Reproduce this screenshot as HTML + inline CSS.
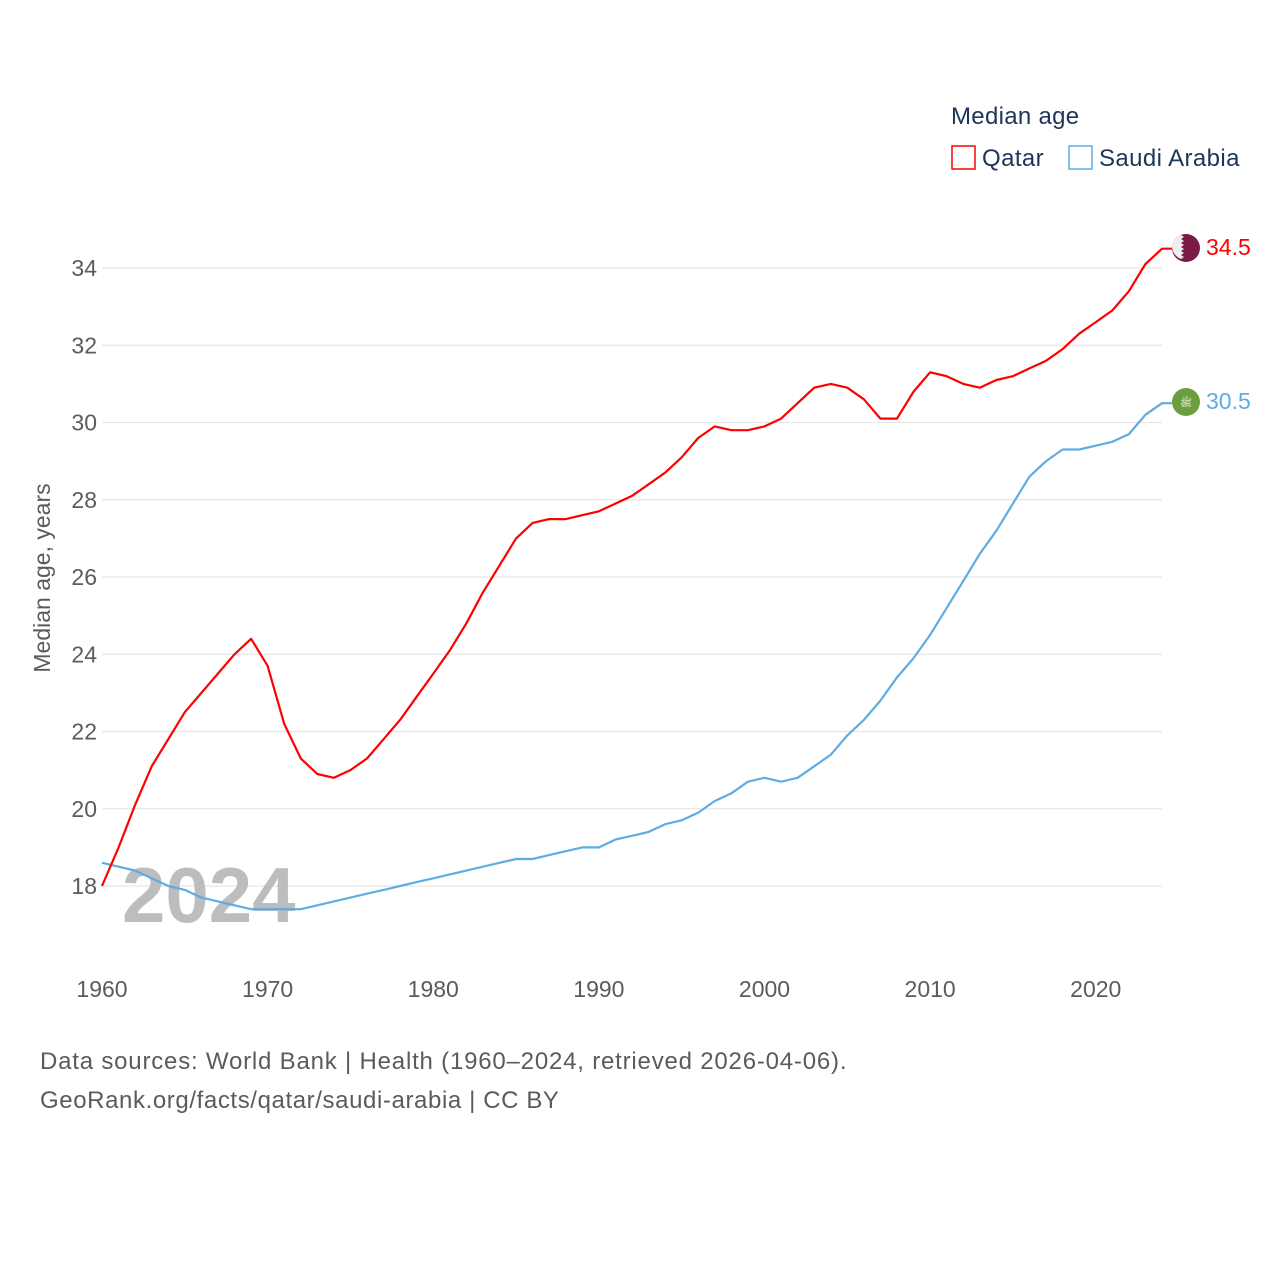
<!DOCTYPE html>
<html><head><meta charset="utf-8"><style>
body{margin:0;background:#fff;}
svg text{font-family:"Liberation Sans",sans-serif;}
</style></head><body>
<svg id="chart" width="1280" height="1280" xmlns="http://www.w3.org/2000/svg">
<text x="951" y="124" font-size="24" fill="#1d3557" letter-spacing="0.3">Median age</text>
<g><rect x="952" y="146" width="23" height="23" fill="none" stroke="#ff0000" stroke-width="1.5"/><text x="982" y="166" font-size="24" fill="#1d3557" letter-spacing="0.4">Qatar</text></g>
<g><rect x="1069" y="146" width="23" height="23" fill="none" stroke="#5dade2" stroke-width="1.5"/><text x="1099" y="166" font-size="24" fill="#1d3557" letter-spacing="0.4">Saudi Arabia</text></g>
<g id="grid"></g>
<g id="yticks"></g>
<g id="xticks"></g>
<text x="0" y="0" font-size="23" fill="#5b5b5b" text-anchor="middle" transform="translate(50,578) rotate(-90)">Median age, years</text>
<text x="122" y="922" font-size="78" font-weight="bold" fill="#bdbdbd">2024</text>
<g id="series"></g>
<g><circle cx="1186" cy="248" r="14" fill="#7a1a45"/><path d="M1172,248 a14,14 0 0 1 9,-13 l3,2 -3,2 3,2 -3,2 3,2 -3,2 3,2 -3,2 3,2 -3,2 3,2 -3,2 a14,14 0 0 1 -9,-13z" fill="#eee"/></g>
<g><circle cx="1186" cy="402" r="14" fill="#6a9e3f"/><text x="1186" y="406" font-size="10" fill="#fff" text-anchor="middle">ﷺ</text></g>
<text x="1206" y="255" font-size="23" fill="#ff0000">34.5</text>
<text x="1206" y="409" font-size="23" fill="#5dade2">30.5</text>
<text x="40" y="1069" font-size="24" fill="#5b5b5b" letter-spacing="0.8">Data sources: World Bank | Health (1960–2024, retrieved 2026-04-06).</text>
<text x="40" y="1108" font-size="24" fill="#5b5b5b" letter-spacing="0.6">GeoRank.org/facts/qatar/saudi-arabia | CC BY</text>
</svg>
<script>
const years=[];for(let y=1960;y<=2024;y++)years.push(y);
const qatar=[18.0,19.0,20.1,21.1,21.8,22.5,23.0,23.5,24.0,24.4,23.7,22.2,21.3,20.9,20.8,21.0,21.3,21.8,22.3,22.9,23.5,24.1,24.8,25.6,26.3,27.0,27.4,27.5,27.5,27.6,27.7,27.9,28.1,28.4,28.7,29.1,29.6,29.9,29.8,29.8,29.9,30.1,30.5,30.9,31.0,30.9,30.6,30.1,30.1,30.8,31.3,31.2,31.0,30.9,31.1,31.2,31.4,31.6,31.9,32.3,32.6,32.9,33.4,34.1,34.5];
const saudi=[18.6,18.5,18.4,18.2,18.0,17.9,17.7,17.6,17.5,17.4,17.4,17.4,17.4,17.5,17.6,17.7,17.8,17.9,18.0,18.1,18.2,18.3,18.4,18.5,18.6,18.7,18.7,18.8,18.9,19.0,19.0,19.2,19.3,19.4,19.6,19.7,19.9,20.2,20.4,20.7,20.8,20.7,20.8,21.1,21.4,21.9,22.3,22.8,23.4,23.9,24.5,25.2,25.9,26.6,27.2,27.9,28.6,29.0,29.3,29.3,29.4,29.5,29.7,30.2,30.5];
const yTicks=[18,20,22,24,26,28,30,32,34];
const xTicks=[1960,1970,1980,1990,2000,2010,2020];
const NS="http://www.w3.org/2000/svg";
const X=y=>102+(y-1960)*(1162-102)/64;
const Y=v=>886-(v-18)*38.625;
function mk(tag,attrs,parent){const e=document.createElementNS(NS,tag);for(const k in attrs)e.setAttribute(k,attrs[k]);parent.appendChild(e);return e;}
const grid=document.getElementById('grid'),yt=document.getElementById('yticks'),xt=document.getElementById('xticks'),ser=document.getElementById('series');
yTicks.forEach(v=>{
 const l=mk('line',{x1:102,x2:1162,y1:Y(v),y2:Y(v),stroke:'#e6e6e6','stroke-width':1.2},grid);
 
 
 const t=mk('text',{x:97,y:Y(v)+8,'font-size':23,fill:'#5b5b5b','text-anchor':'end'},yt);t.textContent=v;
 
 
});
xTicks.forEach(v=>{
 const t=mk('text',{x:X(v),y:997,'font-size':23,fill:'#5b5b5b','text-anchor':'middle'},xt);t.textContent=v;
 
 
});
function line(data,color,name){
 const pts=data.map((v,i)=>X(years[i]).toFixed(1)+','+Y(v).toFixed(1));
 const last=data[data.length-1];
 pts.push('1172,'+Y(last).toFixed(1));
 const p=mk('polyline',{points:pts.join(' '),fill:'none',stroke:color,'stroke-width':2.2,'stroke-linejoin':'round'},ser);
 
 
}
line(saudi,'#5dade2','saudi-arabia-line');
line(qatar,'#ff0000','qatar-line');
</script>
</body></html>
